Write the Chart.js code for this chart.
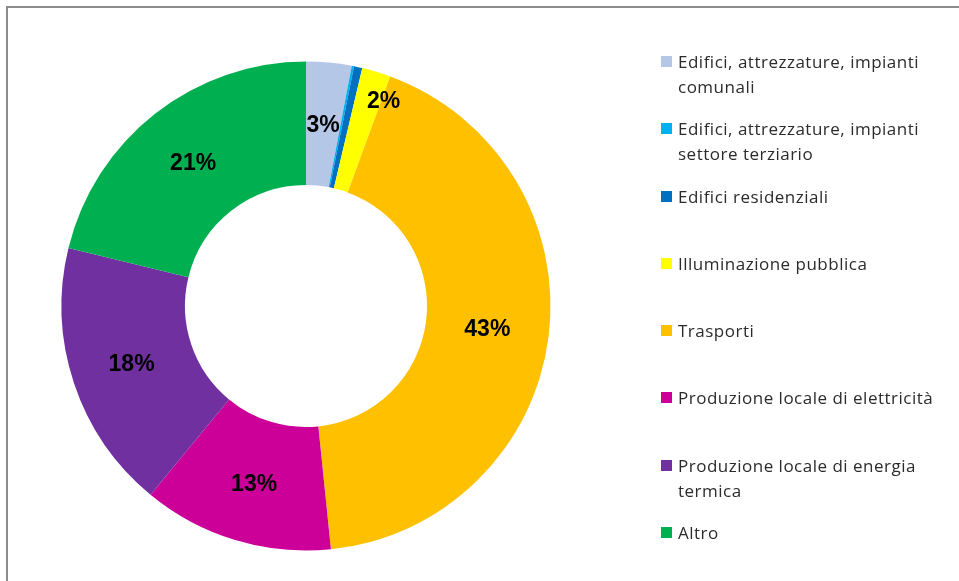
<!DOCTYPE html>
<html>
<head>
<meta charset="utf-8">
<script src="https://cdn.jsdelivr.net/npm/chart.js@4.4.1/dist/chart.umd.min.js"></script>
<style>
  body { margin: 0; background: #fff; }
  #wrap { position: relative; width: 959px; height: 581px; overflow: hidden; }
  #frame { position: absolute; left: 6px; top: 6px; width: 1000px; height: 1000px;
           border-left: 2px solid #8c8c8c; border-top: 2px solid #8c8c8c; }
  canvas { position: absolute; left: 0; top: 0; }
  #legend { position: absolute; left: 661px; top: 49px; margin: 0; padding: 0; list-style: none;
            font-family: "Open Sans", sans-serif; font-size: 17px; letter-spacing: 0.5px; color: #2b2b2b; }
  #legend li { position: relative; height: 67.3px; padding-left: 17px; line-height: 25px; white-space: nowrap; }
  #legend li span { position: absolute; left: 0; top: 7px; width: 11px; height: 11px; }
</style>
</head>
<body>
<div id="wrap">
  <div id="frame"></div>
  <canvas id="donutChart" width="959" height="581"></canvas>
  <ul id="legend"></ul>
</div>
<script>
// categories (multi-line like the original legend)
var categories = [
  ["Edifici, attrezzature, impianti", "comunali"],
  ["Edifici, attrezzature, impianti", "settore terziario"],
  ["Edifici residenziali"],
  ["Illuminazione pubblica"],
  ["Trasporti"],
  ["Produzione locale di elettricità"],
  ["Produzione locale di energia", "termica"],
  ["Altro"]
];
// share of emissions, percent
var shares = [3.0, 0.15, 0.55, 1.9, 42.8, 12.6, 17.85, 21.2];
var colors = ["#B4C7E7", "#00B0F0", "#0070C0", "#FFFF00", "#FFC000", "#CC0099", "#7030A0", "#00B050"];
// label nudges in px (Excel moved the 2% label outward)
var labelNudge = [[0, 2], [0, 0], [0, 0], [25, -29], [0, 1], [1, 4], [-1, 1], [0, 1]];

// draws the percent labels on the ring
var percentLabels = {
  id: "percentLabels",
  afterDatasetsDraw: function(chart) {
    let ctx = chart.ctx;
    let meta = chart.getDatasetMeta(0);
    ctx.save();
    ctx.font = "bold 23px 'Liberation Sans', Arial, sans-serif";
    ctx.fillStyle = "#000";
    ctx.textAlign = "center";
    ctx.textBaseline = "middle";
    meta.data.forEach(function(arc, i) {
      let v = shares[i];
      if (v < 1) return;
      let p = arc.getProps(["x", "y", "startAngle", "endAngle", "innerRadius", "outerRadius"], true);
      let mid = (p.startAngle + p.endAngle) / 2;
      let r = (p.innerRadius + p.outerRadius) / 2;
      let x = p.x + Math.cos(mid) * r + labelNudge[i][0];
      let y = p.y + Math.sin(mid) * r + labelNudge[i][1];
      ctx.fillText(Math.round(v) + "%", x, y);
    });
    ctx.restore();
  }
};

let ctx = document.getElementById("donutChart").getContext("2d");
let chart = new Chart(ctx, {
  type: "doughnut",
  data: {
    labels: categories,
    datasets: [{
      data: shares,
      backgroundColor: colors,
      borderWidth: 0
    }]
  },
  options: {
    responsive: false,
    animation: false,
    cutout: "49.5%",
    layout: { padding: { left: 61.5, top: 61.5, right: 408.5, bottom: 30.5 } },
    plugins: {
      legend: { display: false },
      tooltip: { enabled: false }
    }
  },
  plugins: [percentLabels]
});

// html legend built from the chart data
let legend = document.getElementById("legend");
chart.data.labels.forEach(function(lines, i) {
  let li = document.createElement("li");
  let box = document.createElement("span");
  box.style.background = chart.data.datasets[0].backgroundColor[i];
  li.appendChild(box);
  li.innerHTML += lines.join("<br>");
  legend.appendChild(li);
});
</script>
</body>
</html>
